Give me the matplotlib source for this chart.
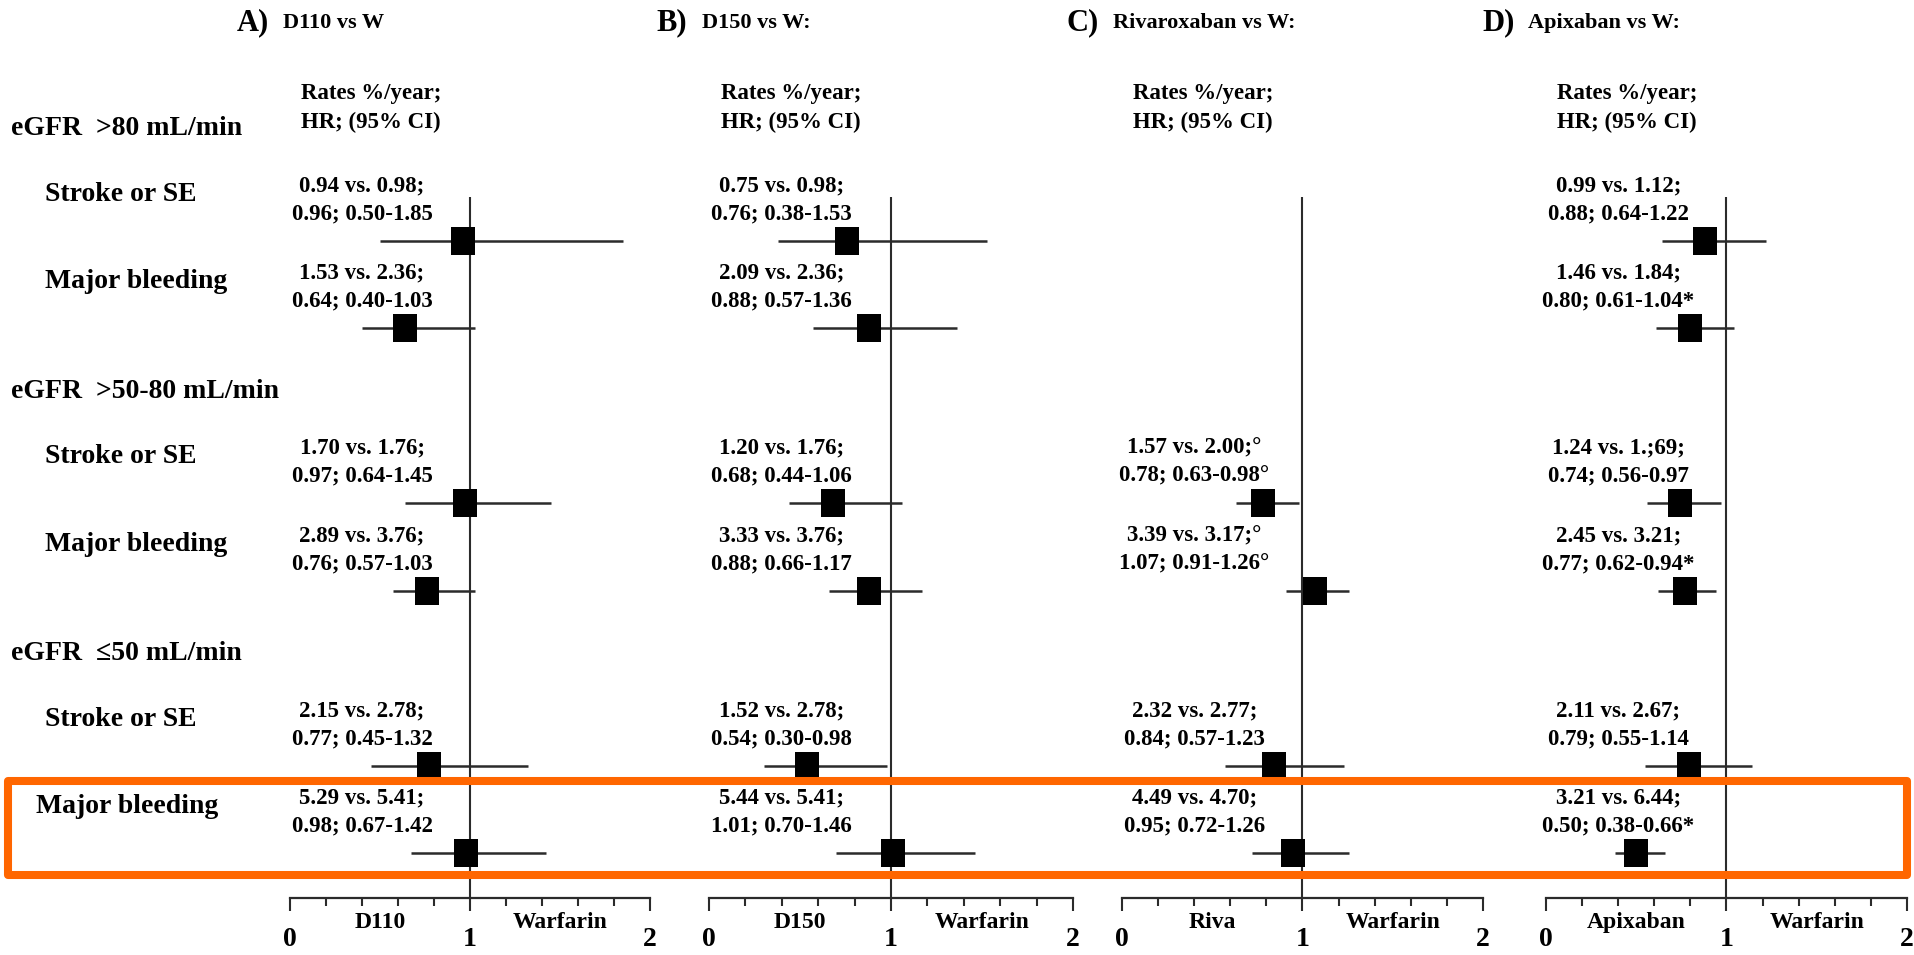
import numpy as np
import matplotlib.pyplot as plt
from matplotlib.transforms import blended_transform_factory
from matplotlib.patches import Rectangle

plt.rcParams['font.family'] = ['Liberation Serif', 'DejaVu Serif']
plt.rcParams['font.weight'] = 'bold'

# ---- data ----
panel_letters = ["A)", "B)", "C)", "D)"]
panel_names = ["D110 vs W", "D150 vs W:", "Rivaroxaban vs W:", "Apixaban vs W:"]
drug_labels = ["D110", "D150", "Riva", "Apixaban"]
groups = ["eGFR  >80 mL/min", "eGFR  >50-80 mL/min", "eGFR  \u226450 mL/min"]
outcomes = ["Stroke or SE", "Major bleeding"]

rates_a = ["0.94 vs. 0.98;", "1.53 vs. 2.36;", "1.70 vs. 1.76;",
           "2.89 vs. 3.76;", "2.15 vs. 2.78;", "5.29 vs. 5.41;"]
hr_a = [0.96, 0.64, 0.97, 0.76, 0.77, 0.98]
lo_a = [0.50, 0.40, 0.64, 0.57, 0.45, 0.67]
hi_a = [1.85, 1.03, 1.45, 1.03, 1.32, 1.42]
mark_a = ["", "", "", "", "", ""]

rates_b = ["0.75 vs. 0.98;", "2.09 vs. 2.36;", "1.20 vs. 1.76;",
           "3.33 vs. 3.76;", "1.52 vs. 2.78;", "5.44 vs. 5.41;"]
hr_b = [0.76, 0.88, 0.68, 0.88, 0.54, 1.01]
lo_b = [0.38, 0.57, 0.44, 0.66, 0.30, 0.70]
hi_b = [1.53, 1.36, 1.06, 1.17, 0.98, 1.46]
mark_b = ["", "", "", "", "", ""]

rates_c = [None, None, "1.57 vs. 2.00;\u00b0", "3.39 vs. 3.17;\u00b0",
           "2.32 vs. 2.77;", "4.49 vs. 4.70;"]
hr_c = [np.nan, np.nan, 0.78, 1.07, 0.84, 0.95]
lo_c = [np.nan, np.nan, 0.63, 0.91, 0.57, 0.72]
hi_c = [np.nan, np.nan, 0.98, 1.26, 1.23, 1.26]
mark_c = ["", "", "\u00b0", "\u00b0", "", ""]

rates_d = ["0.99 vs. 1.12;", "1.46 vs. 1.84;", "1.24 vs. 1.;69;",
           "2.45 vs. 3.21;", "2.11 vs. 2.67;", "3.21 vs. 6.44;"]
hr_d = [0.88, 0.80, 0.74, 0.77, 0.79, 0.50]
lo_d = [0.64, 0.61, 0.56, 0.62, 0.55, 0.38]
hi_d = [1.22, 1.04, 0.97, 0.94, 1.14, 0.66]
mark_d = ["", "*", "", "*", "", "*"]

panels = [(rates_a, hr_a, lo_a, hi_a, mark_a),
          (rates_b, hr_b, lo_b, hi_b, mark_b),
          (rates_c, hr_c, lo_c, hi_c, mark_c),
          (rates_d, hr_d, lo_d, hi_d, mark_d)]

# ---- layout (pixels of the 1915x955 figure) ----
W, H = 1915, 955
panel_x = [(290, 650), (709, 1073), (1122, 1483), (1546, 1907)]
title_x = [237, 656, 1067, 1482]
ax_top, ax_bot = 197, 898
row_slot = [0, 1, 3, 4, 6, 7]
line_col = '#2b2b2b'
box_marker = [(-0.85, -1), (0.85, -1), (0.85, 1), (-0.85, 1), (-0.85, -1)]

fig = plt.figure(figsize=(W / 100, H / 100), dpi=100)
axes = []
for i, (x0, x2) in enumerate(panel_x):
    ax = fig.add_axes([x0 / W, 1 - ax_bot / H, (x2 - x0) / W, (ax_bot - ax_top) / H])
    ax.set_xlim(0, 2)
    ax.set_ylim(7.51, -0.5)
    for s in ['top', 'left', 'right']:
        ax.spines[s].set_visible(False)
    ax.spines['bottom'].set_linewidth(1.6)
    ax.spines['bottom'].set_color(line_col)
    ax.set_yticks([])
    ax.set_xticks([0, 1, 2])
    ax.set_xticks(np.arange(0, 2.01, 0.2), minor=True)
    ax.tick_params(axis='x', which='major', length=9, width=1.5, color=line_col,
                   labelsize=20, pad=12)
    ax.tick_params(axis='x', which='minor', length=5.5, width=1.5, color=line_col)
    ax.axvline(1, color=line_col, lw=1.5, zorder=1)
    ax.patch.set_alpha(0)

    rates, hr, lo, hi, mark = panels[i]
    for k, slot in enumerate(row_slot):
        if rates[k] is None:
            continue
        ax.hlines(slot, lo[k], hi[k], color=line_col, lw=1.8, zorder=2)
        ax.plot(hr[k], slot, marker=box_marker, markersize=19.5, color='black',
                markeredgewidth=0, zorder=3, clip_on=False)
        ax.text(0.40, slot - 0.63, rates[k], ha='center', va='center',
                fontsize=16.5, clip_on=False)
        ax.text(0.40, slot - 0.31, f"{hr[k]:.2f}; {lo[k]:.2f}-{hi[k]:.2f}{mark[k]}",
                ha='center', va='center', fontsize=16.5, clip_on=False)

    ax.text(0.45, -1.68, "Rates %/year;", ha='center', va='center', fontsize=16.5)
    ax.text(0.45, -1.35, "HR; (95% CI)", ha='center', va='center', fontsize=16.5)
    ax.text(0.5, 7.79, drug_labels[i], ha='center', va='center', fontsize=17)
    ax.text(1.5, 7.79, "Warfarin", ha='center', va='center', fontsize=17)

    trans = blended_transform_factory(fig.transFigure, ax.transData)
    ax.text(title_x[i] / W, -2.49, panel_letters[i], transform=trans,
            ha='left', va='center', fontsize=22)
    ax.text((title_x[i] + 46) / W, -2.49, panel_names[i], transform=trans,
            ha='left', va='center', fontsize=16)
    axes.append(ax)

# row labels on the left
trans = blended_transform_factory(fig.transFigure, axes[0].transData)
for g, name in enumerate(groups):
    axes[0].text(11 / W, g * 3 - 1.28, name, transform=trans, ha='left',
                 va='center', fontsize=20)
    for o, out in enumerate(outcomes):
        lx = 36 if (g == 2 and o == 1) else 45
        axes[0].text(lx / W, g * 3 + o - 0.53, out, transform=trans, ha='left',
                     va='center', fontsize=20)

# orange highlight box around the last row
fig.patches.append(Rectangle((8 / W, 1 - 875 / H), (1907 - 8) / W, (875 - 781) / H,
                             transform=fig.transFigure, fill=False,
                             edgecolor='#ff6600', lw=5.8, joinstyle='round'))

fig.savefig('out.png', dpi=100, facecolor='white')
